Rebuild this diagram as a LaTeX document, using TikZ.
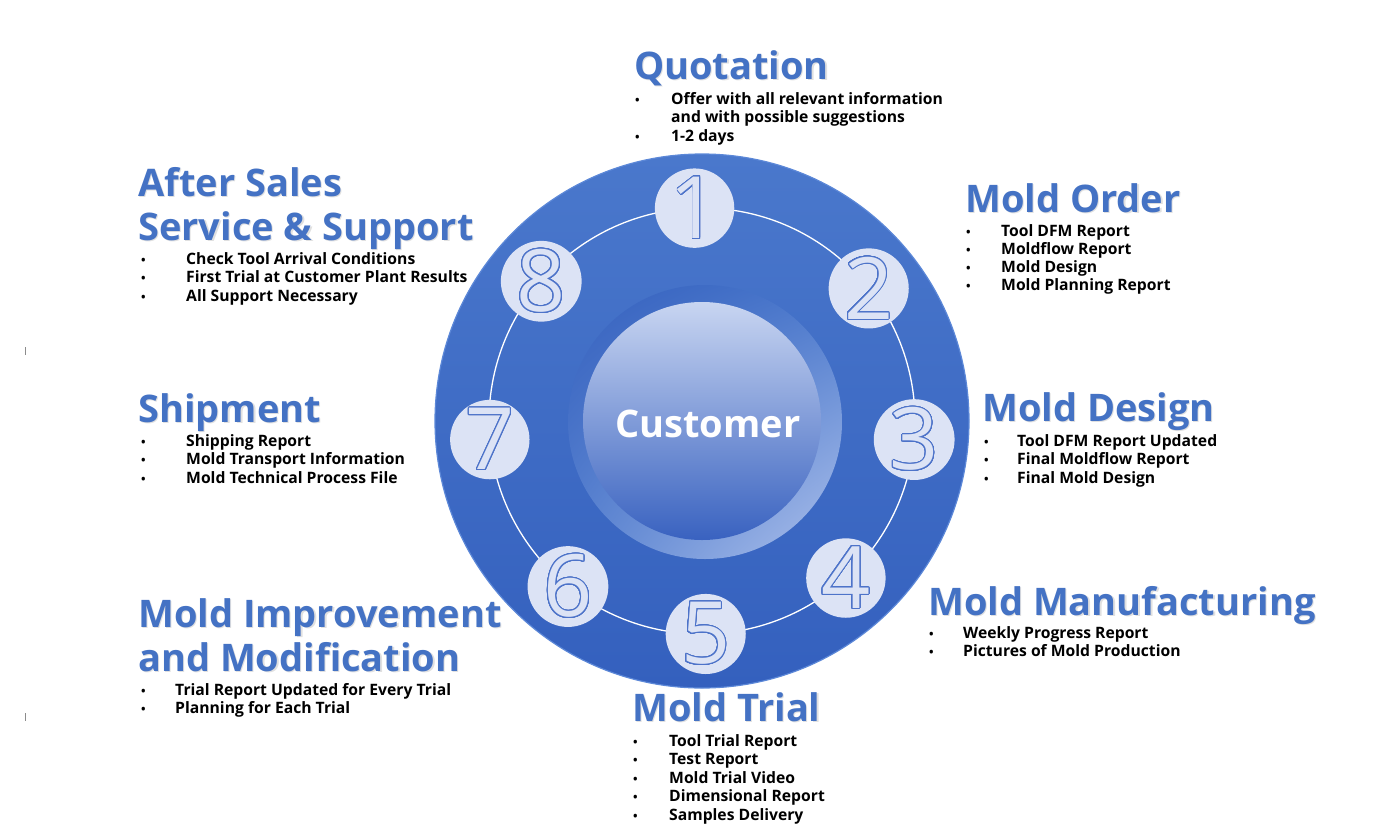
\documentclass[tikz,border=0pt]{standalone}
\usepackage{fontspec}
\setmainfont{Open Sans}
\usepackage{contour}
\usetikzlibrary{calc,shadings}
\contourlength{0.95pt}
\contournumber{32}

\definecolor{headblue}{HTML}{4472C4}
\definecolor{discTop}{HTML}{4A78CC}
\definecolor{discBot}{HTML}{3460BE}
\definecolor{discEdge}{HTML}{5C88D8}
\definecolor{badgefill}{HTML}{DCE3F5}
\definecolor{digitline}{HTML}{4D73C9}
\definecolor{innerTop}{HTML}{C8D5F1}
\definecolor{innerMid}{HTML}{6A8DD6}
\definecolor{innerBot}{HTML}{3962C0}
\definecolor{glowLight}{HTML}{AFC2EC}

\tikzset{
  head/.style={anchor=base west, inner sep=0pt, text=headblue,
    font=\fontsize{38}{42}\selectfont\bfseries},
  headshade/.style={head, text=black!12},
  item/.style={anchor=base west, inner sep=0pt,
    font=\fontsize{15.7}{18}\selectfont\bfseries},
  dot/.style={anchor=base west, inner sep=0pt,
    font=\fontsize{12}{12}\selectfont\bfseries},
  badge/.style={circle, minimum size=72pt, inner sep=0pt, fill=badgefill,
    text=badgefill, font=\fontsize{86}{86}\selectfont},
}

\newcommand{\heading}[3]{%
  \node[headshade] at ($(#2)+(1.3,1.3)$) {#3};
  \node[head] (#1) at (#2) {#3};}

\begin{document}
\begin{tikzpicture}[x=1pt, y=-1pt]
  \useasboundingbox (0,0) rectangle (1400,838);
  \coordinate (hub) at (702,421);

  % big disc and ring
  \shade[top color=discTop, bottom color=discBot] (hub) circle (267);
  \draw[discEdge, line width=1.2pt] (hub) circle (267);
  \draw[white, line width=1.3pt] (hub) circle (213);

  % customer hub
  \shade[upper left=discBot, lower right=glowLight,
    upper right=discTop, lower left=discTop!85!glowLight] ($(hub)+(3,1)$) circle (137);
  \shade[top color=innerTop, middle color=innerMid, bottom color=innerBot]
    (hub) circle (119);
  \node[anchor=base, inner sep=0pt, text=white,
    font=\fontsize{38}{40}\selectfont\bfseries] (customer) at (708,437) {Customer};

  % numbered steps
  \foreach \n/\a in {1/92, 2/38.5, 3/-5, 4/-47.5, 5/-89, 6/-129, 7/185, 8/139}
    \node[badge] (step-\n) at ($(hub)+(-\a:213)$) {\contour{digitline}{\n}};

  % 1
  \heading{quotation}{634,79}{Quotation}
  \node[dot] (quot-dot-1) at (635,104) {\textbullet};
  \node[item] (quot-1) at (671,104) {Offer with all relevant information};
  \node[item] (quot-2) at (671,122.5) {and with possible suggestions};
  \node[dot] (quot-dot-3) at (635,141) {\textbullet};
  \node[item] (quot-3) at (671,141) {1-2 days};

  % 2
  \heading{order}{965,212}{Mold Order}
  \foreach \t [count=\i from 0] in {Tool DFM Report, Moldflow Report, Mold Design, Mold Planning Report}{
    \node[dot] (order-dot-\i) at (966,{236+18.3*\i}) {\textbullet};
    \node[item] (order-\i) at (1001,{236+18.3*\i}) {\t};
  }

  % 3
  \heading{design}{982,421}{Mold Design}
  \foreach \t [count=\i from 0] in {Tool DFM Report Updated, Final Moldflow Report, Final Mold Design}{
    \node[dot] (design-dot-\i) at (984,{446+18.8*\i}) {\textbullet};
    \node[item] (design-\i) at (1017,{446+18.8*\i}) {\t};
  }

  % 4
  \heading{manuf}{928,615}{Mold Manufacturing}
  \foreach \t [count=\i from 0] in {Weekly Progress Report, Pictures of Mold Production}{
    \node[dot] (manuf-dot-\i) at (929,{638+18.3*\i}) {\textbullet};
    \node[item] (manuf-\i) at (963,{638+18.3*\i}) {\t};
  }

  % 5
  \heading{trial}{632,721}{Mold Trial}
  \foreach \t [count=\i from 0] in {Tool Trial Report, Test Report, Mold Trial Video, Dimensional Report, Samples Delivery}{
    \node[dot] (trial-dot-\i) at (633,{746+18.6*\i}) {\textbullet};
    \node[item] (trial-\i) at (669,{746+18.6*\i}) {\t};
  }

  % 6
  \heading{improve}{138,627}{Mold Improvement}
  \heading{modify}{138,671}{and Modification}
  \foreach \t [count=\i from 0] in {Trial Report Updated for Every Trial, Planning for Each Trial}{
    \node[dot] (improve-dot-\i) at (141,{695+18.5*\i}) {\textbullet};
    \node[item] (improve-\i) at (175,{695+18.5*\i}) {\t};
  }

  % 7
  \heading{ship}{138,422}{Shipment}
  \foreach \t [count=\i from 0] in {Shipping Report, Mold Transport Information, Mold Technical Process File}{
    \node[dot] (ship-dot-\i) at (141,{446+18.8*\i}) {\textbullet};
    \node[item] (ship-\i) at (186,{446+18.8*\i}) {\t};
  }

  % 8
  \heading{after}{138,196}{After Sales}
  \heading{service}{138,240}{Service \& Support}
  \foreach \t [count=\i from 0] in {Check Tool Arrival Conditions, First Trial at Customer Plant Results, All Support Necessary}{
    \node[dot] (after-dot-\i) at (141,{264+18.7*\i}) {\textbullet};
    \node[item] (after-\i) at (186,{264+18.7*\i}) {\t};
  }

  % edge marks
  \draw[black!45, line width=0.8pt] (25,347) -- (25,355);
  \draw[black!45, line width=0.8pt] (25,713) -- (25,721);
\end{tikzpicture}
\end{document}
